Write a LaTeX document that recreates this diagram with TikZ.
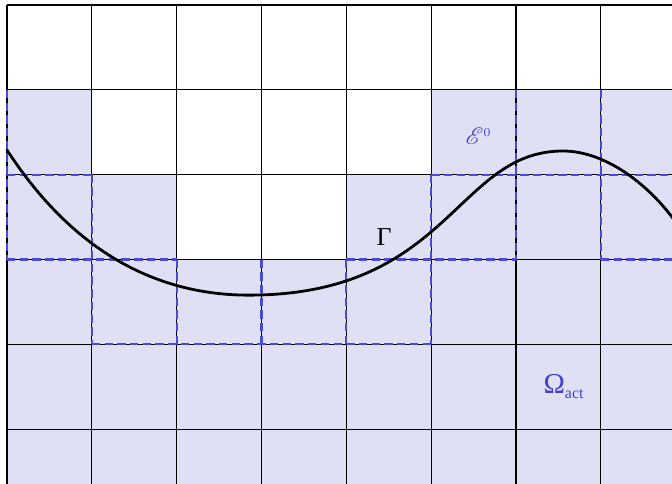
\documentclass[tikz,border=0pt]{standalone}
\usepackage{fontspec}
\setmainfont{Liberation Serif}
\usepackage{mathrsfs}
\definecolor{actfill}{RGB}{224,224,245}
\definecolor{cutblue}{RGB}{75,75,210}
\definecolor{lblblue}{RGB}{65,65,205}
\begin{document}
\begin{tikzpicture}[x=1.5cm,y=1.5cm,
  gridline/.style={black, line width=0.6pt},
  cutedge/.style={cutblue, dash pattern=on 4.2pt off 2.2pt, line width=1.15pt},
  curveline/.style={black, line width=1.4pt},
  lbl/.style={inner sep=0pt}]
\useasboundingbox (-0.0825,-5.635) rectangle (7.839,0.059);
\begin{scope}
\clip (-0.0825,-5.635) rectangle (7.839,0.059);
% active cells
\fill[actfill] (0,-1) rectangle (8,-6);
\fill[white] (1,-1) rectangle (5,-2);
\fill[white] (2,-2) rectangle (4,-3);
% grid
\draw[gridline, step=1.5cm] (0,-6) grid (8,0);
% edges of the cut cells
\draw[cutedge] (0,-2) -- (1,-2);
\draw[cutedge] (5,-2) -- (8,-2);
\draw[cutedge] (0,-3) -- (2,-3);
\draw[cutedge] (4,-3) -- (6,-3);
\draw[cutedge] (7,-3) -- (8,-3);
\draw[cutedge] (1,-4) -- (5,-4);
\draw[cutedge] (0,-1) -- (0,-3);
\draw[cutedge] (1,-2) -- (1,-4);
\draw[cutedge] (2,-3) -- (2,-4);
\draw[cutedge] (3,-3) -- (3,-4);
\draw[cutedge] (4,-3) -- (4,-4);
\draw[cutedge] (5,-2) -- (5,-4);
\draw[cutedge] (6,-1) -- (6,-3);
\draw[cutedge] (7,-1) -- (7,-3);
% interface
\draw[curveline] (0,-1.709)
  .. controls (0.8,-2.941) and (1.8,-3.42) .. (2.85,-3.42)
  .. controls (5.221,-3.42) and (5.294,-1.721) .. (6.554,-1.721)
  .. controls (7.004,-1.721) and (7.489,-2.044) .. (7.839,-2.499)
  -- ++(0.2,-0.26);
\end{scope}
\node[lbl, text=black, font=\fontsize{13}{15}\selectfont] (gamma) at (4.444,-2.735) {Γ};
\node[lbl, text=lblblue, font=\fontsize{13}{15}\selectfont] (eps) at (5.56,-1.55) {$\mathscr{E}^{\scriptscriptstyle 0}$};
\node[lbl, text=lblblue] (omega) at (6.56,-4.50) {\fontsize{14.5}{16}\selectfont Ω\raisebox{-2.5pt}{\fontsize{8}{9}\selectfont act}};
\end{tikzpicture}
\end{document}
